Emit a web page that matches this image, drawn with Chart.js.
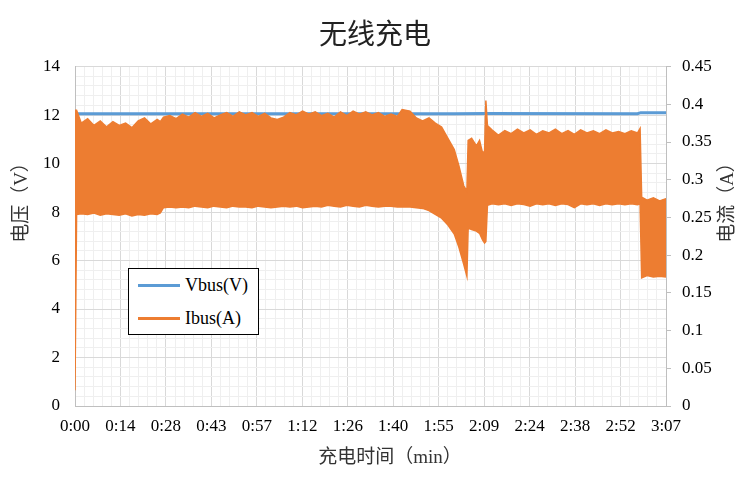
<!DOCTYPE html>
<html lang="zh">
<head>
  <meta charset="UTF-8">
  <title>无线充电</title>
  <script src="https://cdn.jsdelivr.net/npm/chart.js"></script>
  <style>
    body {
      margin: 0;
      background: #fff;
    }
    #wrap {
      position: relative;
      width: 750px;
      height: 480px;
    }
    #legend {
      position: absolute;
      left: 128px;
      top: 268px;
      width: 131px;
      height: 67px;
      box-sizing: border-box;
      border: 1px solid #000;
      background: #fff;
      font-family: "Liberation Serif", serif;
      font-size: 18px;
      color: #000;
    }
    .item {
      display: flex;
      align-items: center;
      height: 33px;
    }
    .swatch {
      width: 42px;
      height: 3px;
      margin-left: 9px;
      margin-right: 5px;
    }
  </style>
</head>
<body>
  <div id="wrap">
    <canvas id="chart" width="750" height="480"></canvas>
    <div id="legend"></div>
  </div>

  <script>
    const chartTitle = "无线充电";
    const xTitle = "充电时间（min）";
    const leftTitle = "电压（V）";
    const rightTitle = "电流（A）";

    // x axis category labels (evenly spaced over 0..187 s)
    const tickLabels = ["0:00", "0:14", "0:28", "0:43", "0:57", "1:12", "1:26",
                        "1:40", "1:55", "2:09", "2:24", "2:38", "2:52", "3:07"];
    const totalSeconds = 187;

    // Vbus (V)
    const vbusTime = [0, 120, 130, 178, 179, 187];
    const vbusValues = [12.05, 12.05, 12.07, 12.06, 12.1, 12.1];

    // Ibus (A): upper and lower edge of the ripple band
    const ibusTime = [
      0, 0.5, 2, 4, 6, 8, 10, 12, 14, 16,
      18, 20, 22, 24, 26, 27, 28, 30, 32, 34,
      36, 38, 40, 42, 44, 46, 48, 50, 52, 54,
      56, 58, 60, 62, 64, 66, 68, 70, 72, 74,
      76, 78, 80, 82, 84, 86, 88, 90, 92, 94,
      96, 98, 100, 102, 103.5, 106, 108, 110, 112, 114,
      116, 118, 120, 121.5, 123, 124, 124.4, 125.5, 127, 128,
      129, 129.6, 130, 130.5, 132, 134, 136, 138, 140, 142,
      144, 146, 148, 150, 152, 154, 156, 158, 160, 162,
      164, 166, 168, 170, 172, 174, 176, 178, 178.8, 179.3,
      181, 183, 185, 187
    ];
    const ibusHigh = [
      0.392, 0.392, 0.375, 0.381, 0.372, 0.378, 0.370, 0.377, 0.372, 0.375,
      0.369, 0.378, 0.382, 0.374, 0.380, 0.377, 0.383, 0.385, 0.381, 0.387,
      0.383, 0.389, 0.384, 0.388, 0.382, 0.386, 0.389, 0.384, 0.390, 0.386,
      0.389, 0.384, 0.388, 0.382, 0.380, 0.383, 0.389, 0.386, 0.391, 0.387,
      0.390, 0.385, 0.388, 0.383, 0.390, 0.385, 0.391, 0.387, 0.390, 0.386,
      0.389, 0.384, 0.387, 0.384, 0.393, 0.391, 0.382, 0.378, 0.382, 0.375,
      0.370, 0.355, 0.340, 0.318, 0.292, 0.285, 0.352, 0.355, 0.345, 0.352,
      0.335, 0.338, 0.405, 0.372, 0.366, 0.359, 0.365, 0.361, 0.367, 0.362,
      0.366, 0.360, 0.365, 0.362, 0.367, 0.361, 0.365, 0.360, 0.366, 0.362,
      0.365, 0.361, 0.366, 0.362, 0.364, 0.361, 0.365, 0.362, 0.368, 0.277,
      0.273, 0.276, 0.272, 0.275
    ];
    const ibusLow = [
      0.021, 0.254, 0.255, 0.254, 0.256, 0.253, 0.255, 0.254, 0.253, 0.255,
      0.252, 0.254, 0.253, 0.255, 0.254, 0.256, 0.263, 0.264, 0.263, 0.264,
      0.263, 0.265, 0.264, 0.263, 0.265, 0.264, 0.263, 0.265, 0.264, 0.264,
      0.263, 0.265, 0.264, 0.263, 0.264, 0.265, 0.264, 0.265, 0.263, 0.264,
      0.265, 0.264, 0.266, 0.265, 0.264, 0.266, 0.265, 0.264, 0.266, 0.265,
      0.264, 0.265, 0.265, 0.264, 0.264, 0.264, 0.263, 0.262, 0.259, 0.254,
      0.249, 0.240, 0.228, 0.210, 0.188, 0.172, 0.236, 0.234, 0.232, 0.229,
      0.220, 0.216, 0.218, 0.266, 0.268, 0.267, 0.268, 0.266, 0.268, 0.267,
      0.265, 0.268, 0.267, 0.268, 0.266, 0.268, 0.267, 0.263, 0.268, 0.267,
      0.268, 0.266, 0.268, 0.267, 0.268, 0.267, 0.268, 0.267, 0.268, 0.170,
      0.173, 0.171, 0.172, 0.171
    ];

    const BLUE = "#5b9bd5";
    const ORANGE = "#ed7d31";
    const SERIF = '"Liberation Serif", "Noto Sans CJK SC", serif';

    const toPoints = (xs, ys) => xs.map((x, i) => ({ x: x, y: ys[i] }));

    // axis titles drawn by hand so the vertical ones read bottom-to-top on both sides
    const axisTitlePlugin = {
      id: "axisTitles",
      afterDraw(chart) {
        const ctx = chart.ctx;
        const midY = 198;
        ctx.save();
        ctx.font = "19px " + SERIF;
        ctx.fillStyle = "#333";
        ctx.textAlign = "center";
        ctx.textBaseline = "middle";
        ctx.fillText(xTitle, 390, 458);
        ctx.translate(22, midY);
        ctx.rotate(-Math.PI / 2);
        ctx.fillText(leftTitle, 0, 0);
        ctx.restore();
        ctx.save();
        ctx.font = "19px " + SERIF;
        ctx.fillStyle = "#333";
        ctx.textAlign = "center";
        ctx.textBaseline = "middle";
        ctx.translate(728, midY);
        ctx.rotate(-Math.PI / 2);
        ctx.fillText(rightTitle, 0, 0);
        ctx.restore();
      }
    };

    const ctx = document.getElementById("chart").getContext("2d");
    const chart = new Chart(ctx, {
      type: "line",
      data: {
        datasets: [
          {
            label: "Vbus(V)",
            data: toPoints(vbusTime, vbusValues),
            borderColor: BLUE,
            borderWidth: 3,
            pointRadius: 0,
            yAxisID: "y",
            order: 3
          },
          {
            label: "Ibus(A)",
            data: toPoints(ibusTime, ibusHigh),
            borderColor: ORANGE,
            backgroundColor: ORANGE,
            borderWidth: 1.5,
            pointRadius: 0,
            fill: "+1",
            yAxisID: "y1",
            order: 1
          },
          {
            label: "",
            data: toPoints(ibusTime, ibusLow),
            borderColor: ORANGE,
            borderWidth: 1.5,
            pointRadius: 0,
            fill: false,
            yAxisID: "y1",
            order: 2
          }
        ]
      },
      options: {
        responsive: false,
        animation: false,
        layout: { padding: 0 },
        plugins: {
          legend: { display: false },
          tooltip: { enabled: false },
          title: {
            display: true,
            text: chartTitle,
            color: "#222",
            font: { family: SERIF, size: 28, weight: "normal" },
            padding: { top: 20, bottom: 13 }
          }
        },
        scales: {
          x: {
            type: "linear",
            min: 0,
            max: totalSeconds,
            afterBuildTicks: (scale) => {
              scale.ticks = tickLabels.map((l, i) => ({ value: totalSeconds * i / (tickLabels.length - 1) }));
            },
            afterFit: (scale) => { scale.height = 74; },
            ticks: {
              callback: (v, i) => tickLabels[i],
              autoSkip: false,
              maxRotation: 0,
              padding: 10,
              color: "#000",
              font: { family: SERIF, size: 17 }
            },
            grid: { color: "#d9d9d9", drawTicks: false },
            border: { color: "#bfbfbf" }
          },
          xMinor: {
            type: "linear",
            position: "bottom",
            min: 0,
            max: totalSeconds,
            afterBuildTicks: (scale) => {
              const n = (tickLabels.length - 1) * 5;
              const t = [];
              for (let i = 0; i <= n; i++) {
                if (i % 5 !== 0) t.push({ value: totalSeconds * i / n });
              }
              scale.ticks = t;
            },
            afterFit: (scale) => { scale.height = 0; },
            ticks: { display: false },
            grid: { color: "#efefef", drawTicks: false },
            border: { display: false }
          },
          y: {
            position: "left",
            min: 0,
            max: 14,
            afterFit: (scale) => { scale.width = 75; },
            ticks: {
              stepSize: 2,
              padding: 15,
              color: "#000",
              font: { family: SERIF, size: 17 }
            },
            grid: { color: "#d9d9d9", drawTicks: false },
            border: { color: "#bfbfbf" }
          },
          yMinor: {
            position: "left",
            min: 0,
            max: 14,
            afterBuildTicks: (scale) => {
              const t = [];
              for (let i = 0; i <= 35; i++) {
                if (i % 5 !== 0) t.push({ value: i * 0.4 });
              }
              scale.ticks = t;
            },
            afterFit: (scale) => { scale.width = 0; },
            ticks: { display: false },
            grid: { color: "#efefef", drawTicks: false },
            border: { display: false }
          },
          y1: {
            position: "right",
            min: 0,
            max: 0.45,
            afterFit: (scale) => { scale.width = 84; },
            ticks: {
              stepSize: 0.05,
              padding: 11,
              color: "#000",
              font: { family: SERIF, size: 17 },
              callback: (v) => String(parseFloat(v.toFixed(2)))
            },
            grid: { drawOnChartArea: false, drawTicks: true, tickLength: 5, color: "#bfbfbf" },
            border: { color: "#bfbfbf" }
          }
        }
      },
      plugins: [axisTitlePlugin]
    });

    // legend box inside the plot, like the original
    const legend = document.getElementById("legend");
    chart.data.datasets.filter(d => d.label).forEach(d => {
      const item = document.createElement("div");
      item.className = "item";
      const sw = document.createElement("span");
      sw.className = "swatch";
      sw.style.background = d.borderColor;
      const txt = document.createElement("span");
      txt.textContent = d.label;
      item.appendChild(sw);
      item.appendChild(txt);
      legend.appendChild(item);
    });
  </script>
</body>
</html>
